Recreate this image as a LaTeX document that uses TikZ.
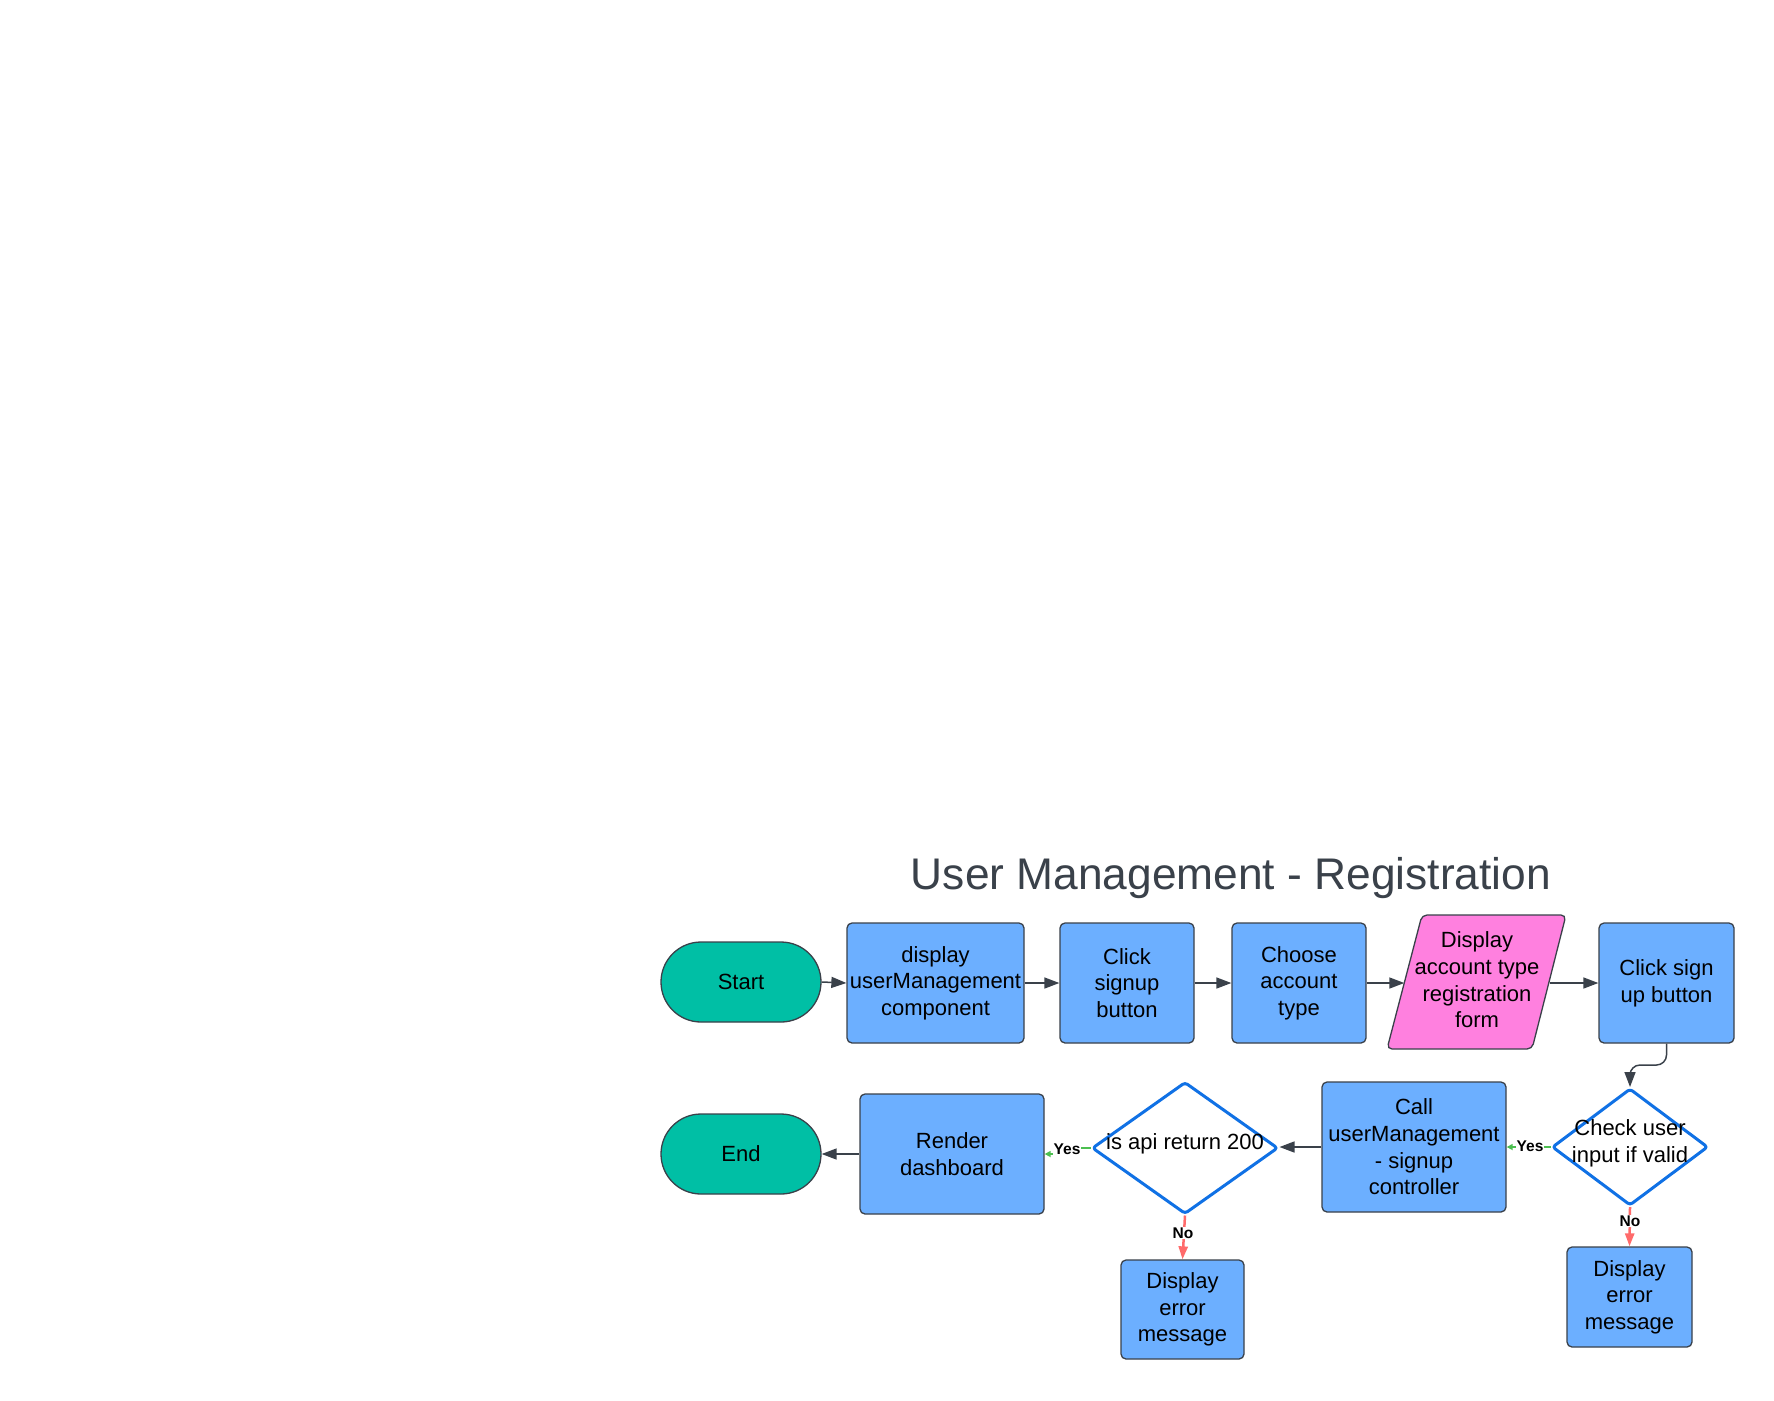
\documentclass[tikz,border=0pt]{standalone}
\usepackage{fontspec}
\setmainfont{Liberation Sans}
\usetikzlibrary{shapes.geometric,arrows.meta,calc}
\definecolor{boxblue}{HTML}{6CAFFF}
\definecolor{tealfill}{HTML}{00BFA5}
\definecolor{pinkfill}{HTML}{FF80DF}
\definecolor{edgegray}{HTML}{3A414A}
\definecolor{diablue}{HTML}{1071E5}
\definecolor{yesgreen}{HTML}{4CBF50}
\definecolor{nored}{HTML}{FF6B6B}
\begin{document}
\begin{tikzpicture}[x=1pt,y=-1pt,
 txt/.style={font=\fontsize{22}{26.7}\selectfont, align=center, text=black},
 proc/.style={txt, draw=edgegray, line width=1.3pt, fill=boxblue, rounded corners=5pt, inner sep=0pt},
 term/.style={txt, draw=edgegray, line width=1.3pt, fill=tealfill, rounded corners=40pt, minimum width=160pt, minimum height=80pt, inner sep=0pt},
 dec/.style={diamond, draw=diablue, line width=3pt, fill=white, rounded corners=3pt, inner sep=0pt, line join=round},
 conn/.style={draw=edgegray, line width=1.5pt, -{Triangle[length=15pt,width=11pt]}},
 yesline/.style={draw=yesgreen, line width=2.5pt, -{Triangle[length=6pt,width=6pt]}},
 noline/.style={draw=nored, line width=2.5pt, -{Triangle[length=13pt,width=9pt]}},
 lbl/.style={font=\fontsize{15.5}{18}\bfseries\selectfont, fill=white, inner sep=1pt, text=black},
]
\fill[white] (0,0) rectangle (1774,1400);
\useasboundingbox (0,0) rectangle (1774,1400);

\node[font=\fontsize{44.3}{50}\selectfont, text=edgegray, anchor=base] (title) at (1231,889) {User Management - Registration};

% row 1
\node[term] (start) at (741,982) {Start};
\node[proc, minimum width=177pt, minimum height=120pt] (b1) at (935.5,983) {display\\userManagement\\component};
\node[proc, minimum width=134pt, minimum height=120pt] (b2) at (1127,983) {Click\\signup\\button};
\node[proc, minimum width=134pt, minimum height=120pt] (b3) at (1299,983) {Choose\\account\\type};
\draw[draw=edgegray, line width=1.3pt, fill=pinkfill, rounded corners=5pt] (1422,915) -- (1566,915) -- (1532,1049) -- (1387,1049) -- cycle;
\node[txt, minimum width=145pt, minimum height=134pt, inner sep=0pt] (form) at (1477,980) {Display\\account type\\registration\\form};
\node[proc, minimum width=135pt, minimum height=120pt] (b5) at (1666.5,983) {Click sign\\up button};

% row 2
\node[dec, minimum width=156pt, minimum height=117pt] (check) at (1630,1147) {};
\node[txt] (checktxt) at ([yshift=4pt]check.center) {Check user\\input if valid};
\node[proc, minimum width=184pt, minimum height=130pt] (call) at (1414,1147) {Call\\userManagement\\- signup\\controller};
\node[dec, minimum width=186pt, minimum height=132pt] (api) at (1185,1148) {};
\node[txt] (apitxt) at ([yshift=4pt]api.center) {is api return 200};
\node[proc, minimum width=184pt, minimum height=120pt] (render) at (952,1154) {Render\\dashboard};
\node[term] (end) at (741,1154) {End};
\node[proc, minimum width=123pt, minimum height=99pt] (err1) at (1182.5,1309.5) {Display\\error\\message};
\node[proc, minimum width=125pt, minimum height=100pt] (err2) at (1629.5,1297) {Display\\error\\message};

% connectors
\draw[conn] (start.east) -- (b1.west);
\draw[conn] (b1.east) -- (b2.west);
\draw[conn] (b2.east) -- (b3.west);
\draw[conn] (b3.east) -- (b3.east -| form.west);
\draw[conn] (form.east |- b5.west) -- (b5.west);
\draw[conn, rounded corners=10pt] (b5.south) |- ([yshift=22pt]check.north) -- (check.north);
\draw[yesline] (check.west) -- (call.east);
\node[lbl] (yes1) at (1530,1146) {Yes};
\draw[conn] (call.west) -- (call.west -| api.east);
\draw[yesline] (api.west) -- ++(-22,0) |- (render.east);
\node[lbl] (yes2) at (1067,1149) {Yes};
\draw[conn] (render.west) -- (end.east);
\draw[noline] (check.south) -- (err2.north);
\node[lbl] (no1) at (1630,1221) {No};
\draw[noline] (api.south) -- (err1.north);
\node[lbl] (no2) at (1183,1233) {No};
\end{tikzpicture}
\end{document}
